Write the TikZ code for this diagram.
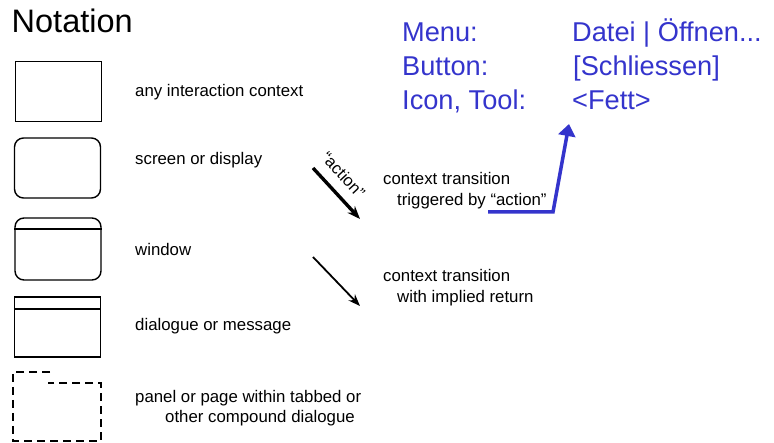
\documentclass[tikz,border=0pt]{standalone}
\usepackage{fontspec}
\setmainfont{Liberation Sans}
\usetikzlibrary{arrows.meta,positioning}
\definecolor{noteblue}{RGB}{52,52,204}
\tikzset{
  ctx/.style={rectangle, draw=black, line width=1.4pt, minimum width=86pt,
              minimum height=60pt, inner sep=0pt},
  scr/.style={ctx, rounded corners=9pt},
  lbl/.style={anchor=base west, inner sep=0pt, font=\fontsize{16.8}{20}\selectfont},
  key/.style={anchor=base west, inner sep=0pt, text=noteblue,
              font=\fontsize{27.2}{32}\selectfont},
  tr/.style={-{Stealth[length=13pt, width=10pt]}, line width=3.4pt},
  trr/.style={-{Stealth[length=12pt, width=9pt]}, line width=1.8pt},
  pt/.style={-{Triangle[length=12pt, width=17pt]}, line width=3.5pt,
             draw=noteblue, line join=miter}
}
\begin{document}
\begin{tikzpicture}[x=1pt, y=-1pt]
\useasboundingbox (0,0) rectangle (774,443);
% ---- title ----
\node[anchor=base west, inner sep=0pt, font=\fontsize{32.5}{36}\selectfont] (title) at (11.5,33) {Notation};
% ---- context symbols ----
\node[ctx] (any) at (58.5,91.5) {};
\node[scr] (screen) at (57.5,168) {};
\node[scr, minimum height=62pt] (window) at (58,249) {};
\draw[line width=1.4pt] (window.west |- 0,229) -- (window.east |- 0,229);
\node[ctx] (dialog) at (57.5,327) {};
\draw[line width=1.4pt] (dialog.west |- 0,309) -- (dialog.east |- 0,309);
\draw[line width=2.6pt, dash pattern=on 8pt off 5pt]
  (50,372) -- (13,372) -- (13,441) -- (101,441) -- (101,383) -- (48,383);
% ---- symbol labels ----
\node[lbl] (lany) at (135,97) {any interaction context};
\node[lbl] (lscreen) at (135,165) {screen or display};
\node[lbl] (lwindow) at (135,256) {window};
\node[lbl] (ldialog) at (135,331) {dialogue or message};
\node[lbl] (lpanel) at (135,403) {panel or page within tabbed or};
\node[lbl] (lpanelb) at (165,423) {other compound dialogue};
% ---- transitions ----
\coordinate (a1) at (313,168);
\coordinate (a2) at (360,219);
\draw[tr] (a1) -- (a2);
\node[rotate=-47, inner sep=0pt, font=\fontsize{16.5}{18}\selectfont] (act) at (343.5,175) {“action”};
\coordinate (b1) at (313,257);
\coordinate (b2) at (360,306);
\draw[trr] (b1) -- (b2);
\node[lbl] (ltrig) at (383,185) {context transition};
\node[lbl] (ltrigb) at (397,206) {triggered by “action”};
\node[lbl] (lret) at (383,282) {context transition};
\node[lbl] (lretb) at (397,303) {with implied return};
% ---- naming conventions ----
\node[key] (kmenu) at (402,41.5) {Menu:};
\node[key] (kbutton) at (402,75.5) {Button:};
\node[key] (kicon) at (402,109.5) {Icon, Tool:};
\node[key] (vmenu) at (572,41.5) {Datei | Öffnen...};
\node[key] (vbutton) at (573,75.5) {[Schliessen]};
\node[key] (vicon) at (572,109.5) {<Fett>};
\coordinate (p0) at (488,212);
\coordinate (p1) at (553,212);
\coordinate (p2) at (569,124);
\draw[pt] (p0) -- (p1) -- (p2);
\end{tikzpicture}
\end{document}
